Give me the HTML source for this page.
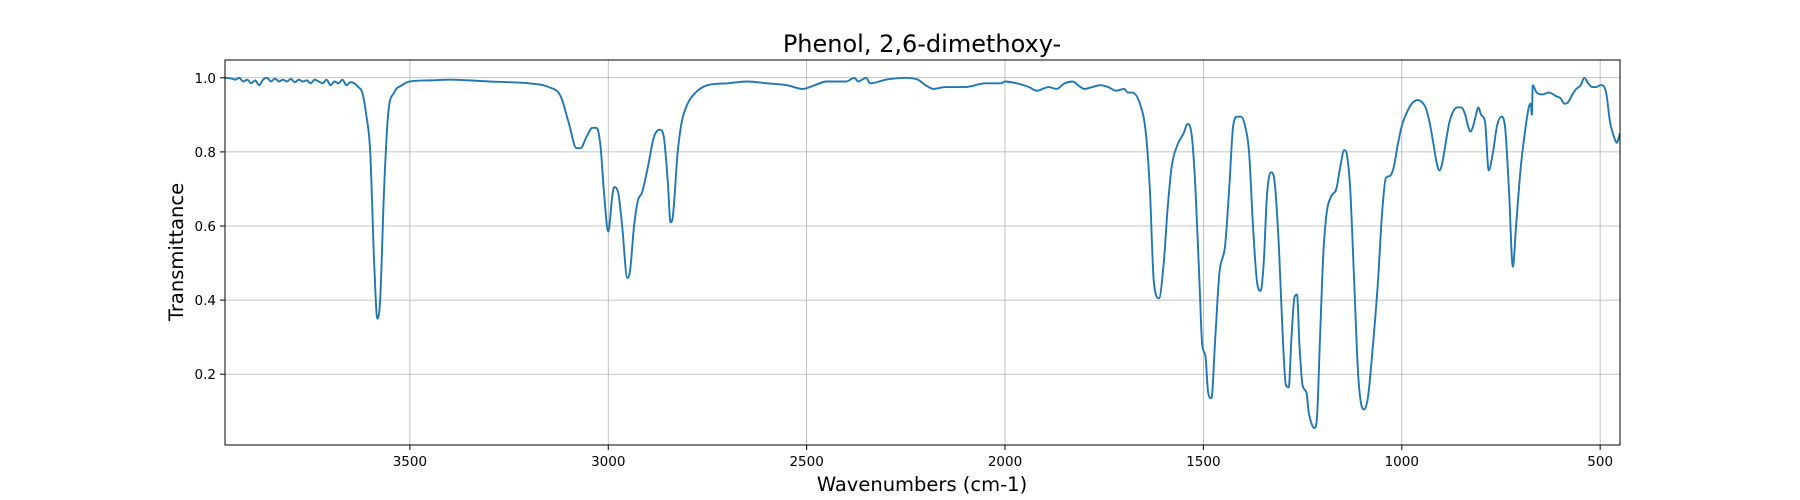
<!DOCTYPE html>
<html><head><meta charset="utf-8"><style>
html,body{margin:0;padding:0;background:#fff;}
svg{display:block;font-family:"DejaVu Sans","Liberation Sans",sans-serif;}
</style></head><body>
<svg id="chart" width="1800" height="500" viewBox="0 0 1800 500">
<text x="922" y="52" font-size="24" text-anchor="middle">Phenol, 2,6-dimethoxy-</text>
<text x="922" y="491" font-size="19.5" text-anchor="middle">Wavenumbers (cm-1)</text>
<text transform="translate(183,252) rotate(-90)" font-size="19.5" text-anchor="middle">Transmittance</text>
<g id="grid"></g>
<g id="ticks"></g>
<g id="plot"></g>
<rect x="225" y="60" width="1395" height="385" fill="none" stroke="#000" stroke-width="1"/>
</svg>
<script>
const xTicks=[3500,3000,2500,2000,1500,1000,500];
const yTicks=[0.2,0.4,0.6,0.8,1.0];
const yTickLabels=["0.2","0.4","0.6","0.8","1.0"];
const wavenumbers=[3966,3950,3940,3930,3920,3910,3900,3890,3880,3870,3860,3850,3840,3830,3820,3810,3800,3790,3780,3770,3760,3750,3740,3730,3720,3710,3700,3690,3680,3670,3660,3650,3640,3630,3620,3610,3600,3590,3582,3575,3565,3555,3540,3520,3500,3450,3400,3350,3300,3250,3200,3150,3120,3100,3080,3070,3055,3040,3030,3020,3010,3000,2990,2985,2975,2965,2952,2945,2935,2925,2915,2900,2885,2870,2860,2850,2843,2838,2825,2815,2800,2780,2750,2700,2650,2600,2550,2510,2480,2450,2400,2380,2370,2360,2350,2340,2300,2250,2220,2200,2180,2150,2100,2050,2010,2000,1970,1940,1920,1890,1870,1850,1830,1810,1800,1780,1760,1740,1720,1700,1690,1680,1660,1645,1635,1625,1612,1600,1590,1580,1565,1550,1540,1530,1520,1510,1503,1495,1488,1480,1470,1460,1445,1435,1425,1415,1405,1395,1385,1375,1365,1356,1348,1340,1330,1322,1310,1300,1292,1285,1278,1270,1264,1258,1250,1240,1235,1225,1220,1214,1206,1198,1190,1178,1165,1155,1145,1138,1130,1120,1110,1100,1095,1085,1075,1060,1050,1040,1030,1020,1010,1000,990,975,960,950,940,930,920,912,905,898,890,880,870,860,850,840,833,827,820,813,807,800,790,781,770,760,749,740,730,720,712,700,690,680,675,672,670,660,645,630,610,600,590,580,570,560,549,540,530,520,510,500,495,485,475,465,458,450];
const transmittance=[1.0,0.998,0.995,1.0,0.99,0.995,0.985,0.993,0.98,0.995,1.0,0.99,0.998,0.99,0.995,0.99,0.997,0.988,0.995,0.99,0.993,0.985,0.995,0.99,0.985,0.995,0.98,0.99,0.985,0.995,0.98,0.988,0.985,0.975,0.96,0.9,0.8,0.5,0.35,0.4,0.7,0.9,0.96,0.98,0.99,0.993,0.995,0.993,0.99,0.988,0.985,0.975,0.95,0.88,0.81,0.81,0.84,0.865,0.865,0.82,0.68,0.585,0.68,0.705,0.69,0.6,0.46,0.48,0.6,0.67,0.69,0.76,0.84,0.86,0.84,0.72,0.61,0.62,0.8,0.88,0.93,0.96,0.98,0.985,0.99,0.985,0.98,0.97,0.98,0.99,0.99,1.0,0.99,0.995,1.0,0.985,0.995,1.0,0.995,0.98,0.97,0.975,0.975,0.985,0.985,0.99,0.985,0.975,0.965,0.975,0.97,0.985,0.99,0.975,0.97,0.975,0.98,0.975,0.965,0.97,0.96,0.96,0.93,0.85,0.7,0.45,0.405,0.5,0.65,0.76,0.82,0.85,0.875,0.85,0.7,0.45,0.28,0.25,0.15,0.135,0.3,0.47,0.55,0.7,0.87,0.895,0.895,0.87,0.8,0.6,0.45,0.425,0.5,0.68,0.745,0.73,0.55,0.3,0.17,0.165,0.3,0.41,0.415,0.28,0.17,0.15,0.1,0.06,0.055,0.08,0.3,0.52,0.63,0.68,0.7,0.76,0.805,0.79,0.7,0.45,0.2,0.11,0.105,0.14,0.25,0.45,0.63,0.73,0.735,0.76,0.82,0.87,0.9,0.93,0.94,0.935,0.92,0.88,0.82,0.77,0.75,0.77,0.82,0.88,0.91,0.92,0.92,0.9,0.87,0.855,0.87,0.9,0.92,0.9,0.88,0.75,0.8,0.87,0.895,0.87,0.7,0.49,0.6,0.76,0.85,0.92,0.93,0.9,0.98,0.96,0.955,0.96,0.95,0.945,0.93,0.935,0.955,0.97,0.98,1.0,0.985,0.975,0.975,0.98,0.98,0.96,0.88,0.84,0.825,0.85,0.83];

const L=225,R=1620,T=60,B=445,XMAX=3966,XMIN=450,YMIN=0.009,YMAX=1.048;
const sx=v=>L+(XMAX-v)/(XMAX-XMIN)*(R-L);
const sy=v=>B-(v-YMIN)/(YMAX-YMIN)*(B-T);
const NS="http://www.w3.org/2000/svg";
const grid=document.getElementById('grid'),ticks=document.getElementById('ticks'),plot=document.getElementById('plot');
xTicks.forEach(v=>{
  const x=sx(v);
  const g=document.createElementNS(NS,'line');
  g.setAttribute('x1',x);g.setAttribute('x2',x);g.setAttribute('y1',T);g.setAttribute('y2',B);
  g.setAttribute('stroke','#b0b0b0');g.setAttribute('stroke-width','0.8');
  
  
  grid.appendChild(g);
  const t=document.createElementNS(NS,'line');
  t.setAttribute('x1',x);t.setAttribute('x2',x);t.setAttribute('y1',B);t.setAttribute('y2',B+5);
  t.setAttribute('stroke','#000');
  
  
  ticks.appendChild(t);
  const l=document.createElementNS(NS,'text');
  l.setAttribute('x',x);l.setAttribute('y',B+21);l.setAttribute('font-size','13.5');l.setAttribute('text-anchor','middle');
  l.textContent=v;
  
  
  ticks.appendChild(l);
});
yTicks.forEach((v,i)=>{
  const y=sy(v);
  const g=document.createElementNS(NS,'line');
  g.setAttribute('x1',L);g.setAttribute('x2',R);g.setAttribute('y1',y);g.setAttribute('y2',y);
  g.setAttribute('stroke','#b0b0b0');g.setAttribute('stroke-width','0.8');
  
  
  grid.appendChild(g);
  const t=document.createElementNS(NS,'line');
  t.setAttribute('x1',L-5);t.setAttribute('x2',L);t.setAttribute('y1',y);t.setAttribute('y2',y);
  t.setAttribute('stroke','#000');
  
  
  ticks.appendChild(t);
  const l=document.createElementNS(NS,'text');
  l.setAttribute('x',L-9);l.setAttribute('y',y+5);l.setAttribute('font-size','13.5');l.setAttribute('text-anchor','end');
  l.textContent=yTickLabels[i];
  
  
  ticks.appendChild(l);
});
// monotone cubic path
const P=wavenumbers.map((w,i)=>[sx(w),sy(transmittance[i])]);
const n=P.length,d=[],m=[];
for(let i=0;i<n-1;i++){d.push((P[i+1][1]-P[i][1])/(P[i+1][0]-P[i][0]));}
for(let i=0;i<n;i++){
  if(i===0)m.push(d[0]);else if(i===n-1)m.push(d[n-2]);
  else m.push(d[i-1]*d[i]<=0?0:(d[i-1]+d[i])/2);
}
for(let i=0;i<n-1;i++){
  if(d[i]===0){m[i]=0;m[i+1]=0;continue;}
  const a=m[i]/d[i],b=m[i+1]/d[i],s=a*a+b*b;
  if(s>9){const t=3/Math.sqrt(s);m[i]=t*a*d[i];m[i+1]=t*b*d[i];}
}
let path='M'+P[0][0].toFixed(2)+','+P[0][1].toFixed(2);
for(let i=0;i<n-1;i++){
  const h=(P[i+1][0]-P[i][0])/3;
  path+=' C'+(P[i][0]+h).toFixed(2)+','+(P[i][1]+m[i]*h).toFixed(2)+' '+(P[i+1][0]-h).toFixed(2)+','+(P[i+1][1]-m[i+1]*h).toFixed(2)+' '+P[i+1][0].toFixed(2)+','+P[i+1][1].toFixed(2);
}
const line=document.createElementNS(NS,'path');
line.setAttribute('d',path);line.setAttribute('fill','none');line.setAttribute('stroke','#1f77b4');
line.setAttribute('stroke-width','1.9');line.setAttribute('stroke-linejoin','round');


plot.appendChild(line);
</script>
</body></html>
